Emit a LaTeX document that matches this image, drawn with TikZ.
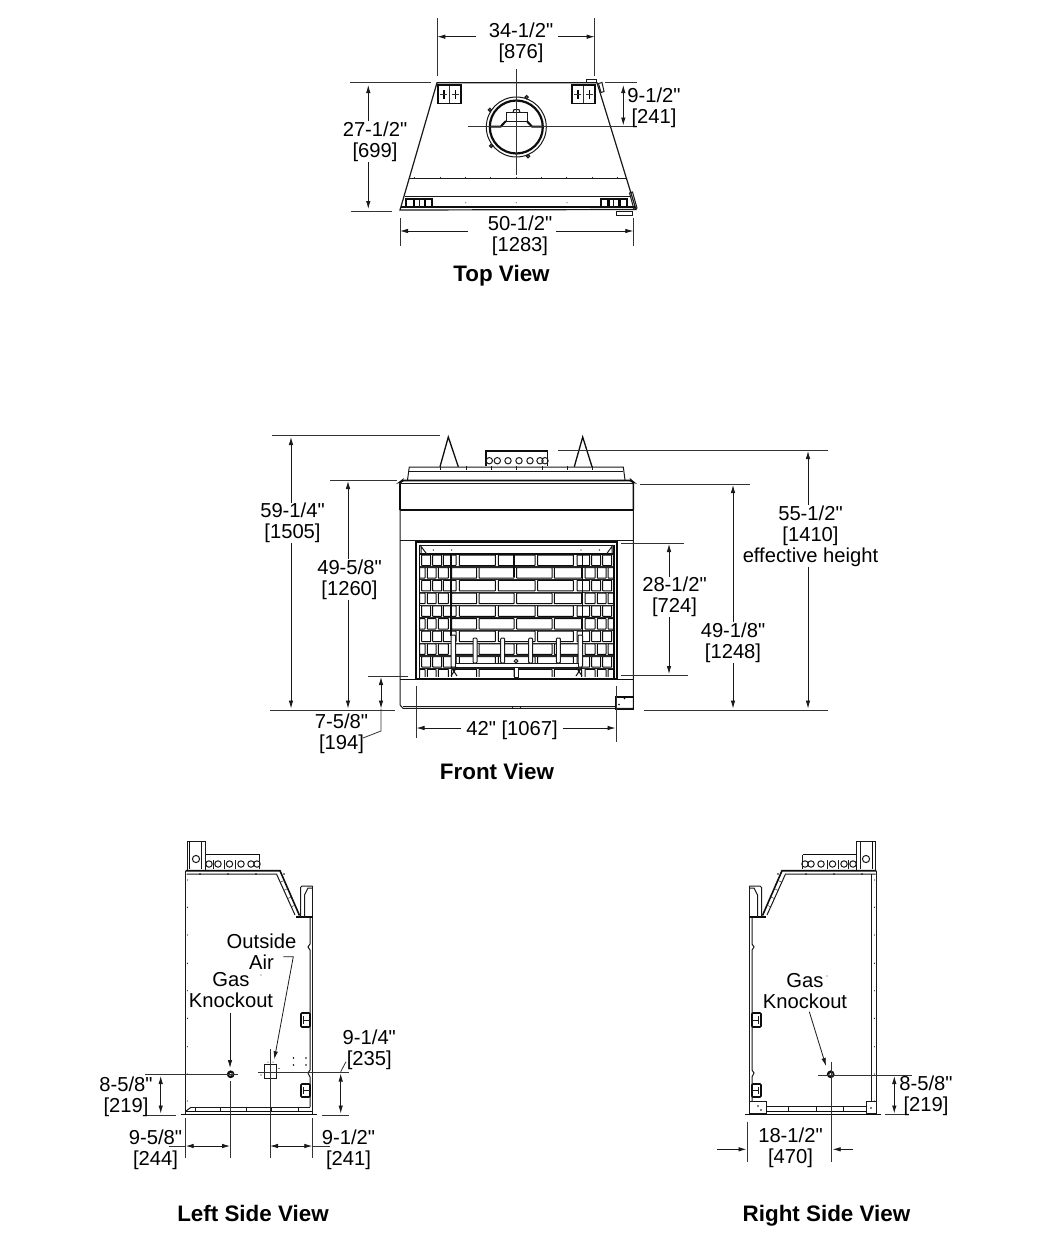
\documentclass[tikz,border=0pt]{standalone}
\usepackage{fontspec}
\newfontfamily\dimfont{Liberation Sans}
\usetikzlibrary{positioning,arrows.meta}

% one side elevation, written for the left view; the right view mirrors it
\newcommand{\sidebody}{
  \draw[heavy] (185.7,870.7) -- (280,870.7) -- (299.5,915.5);
  \draw[part] (186.5,874) -- (276.5,874) -- (295,915);
  \foreach \sf in {0.2,0.4,0.6,0.8}
    \draw[thin] (276.5,874) ++(\sf*18.5,\sf*41) -- ++(3.5,-1.6);
  \draw[part] (185.7,870.7) -- (185.7,1113.5);
  \draw[part] (312.7,886) -- (312.7,1113.5);
  \draw[heavy] (296,916.7) -- (312.7,916.7);
  \draw[part, rounded corners=1.5pt] (300.5,917) -- (300.5,886) -- (312.7,886);
  \draw[part] (304.5,917) -- (304.5,895) -- (308,888) -- (312,888);
  \draw[part] (310,918) -- (310,944) -- (308,947) -- (310,950) -- (310,1070) -- (308,1073) -- (310,1077) -- (310,1107);
  \draw[heavy, rounded corners=1pt] (310,1013) rectangle (301,1027);
  \draw[part] (303.5,1016) -- (303.5,1024) (303.5,1020) -- (310,1020);
  \draw[heavy, rounded corners=1pt] (310,1084) rectangle (301,1097);
  \draw[part] (303.5,1087) -- (303.5,1094) (303.5,1090.5) -- (310,1090.5);
  \draw[heavy] (180.7,1114.3) -- (316.7,1114.3);
  \foreach \ty in {880,907.3,935,963.3,990.7,1018.3,1046.7,1074,1101}
    \fill[black!80] (187.5,\ty) circle (0.7);
  \foreach \tx in {200,228,256,284}
    \fill (\tx,874) circle (0.9);
  \draw[part] (187,870) -- (187,841) -- (205.7,841) -- (205.7,870);
  \draw[heavy] (189.5,841) -- (189.5,869);
  \draw[part] (201.7,841) -- (201.7,869);
  \draw[part] (196,859) circle (3.6);
  \draw[heavy] (205.7,854.5) -- (259.5,854.5);
  \draw[part] (259.5,854.5) -- (259.5,869);
  \foreach \cx in {209,218,229.5,241,251,257}
    \draw[part] (\cx,864) circle (3.2);
  \draw[part] (213.5,860) -- (213.5,869) (224,860) -- (224,869) (235,860) -- (235,869);
}

\begin{document}
\begin{tikzpicture}[x=1pt,y=-1pt]
  \tikzstyle{part}=[line width=1pt, black!90]
  \tikzstyle{heavy}=[line width=1.6pt, black!95]
  \tikzstyle{thin}=[line width=0.5pt, black!80]
  \tikzstyle{extline}=[line width=0.8pt, black!80]
  \tikzstyle{dim}=[line width=0.8pt, black!90, -{Latex[length=8pt,width=4.5pt]}]
  \tikzstyle{dimboth}=[line width=0.8pt, black!90, {Latex[length=8pt,width=4.5pt]}-{Latex[length=8pt,width=4.5pt]}]
  \tikzstyle{lbl}=[inner sep=0pt, align=center, yshift=-2pt, font=\dimfont\fontsize{20.2}{21}\selectfont]
  \tikzstyle{viewname}=[inner sep=0pt, anchor=base, font=\dimfont\fontsize{22.4}{24}\selectfont\bfseries]
  \tikzstyle{brick}=[line width=1pt, black!95, fill=white, rounded corners=0.5pt]

  \useasboundingbox (0,0) rectangle (1048,1234);
  \fill[white] (0,0) rectangle (1048,1234);

  % ---- top view
  \coordinate (tTL) at (437,82.7);
  \coordinate (tTR) at (597,82.7);
  \coordinate (tBR) at (636,209.5);
  \coordinate (tBL) at (400,210);
  \draw[part, line width=1.2pt] (tTL) -- (tTR) -- (tBR) -- (tBL) -- cycle;
  \draw[part] (408.5,178.3) -- (625.5,178.3);
  \draw[part] (404.5,196.7) -- (630,196.7);
  \draw[heavy] (401,207) -- (635,207);
  \foreach \tx in {414.7,440,465.3,490.7,516,541.3,566.7,592,617.3}
    \draw[thin] (\tx,176.5) -- (\tx,178.3);
  \foreach \tx in {465.7,516.3,567}
    \fill[black!60] (\tx,202.7) circle (0.6);
  \foreach \bx in {438,572}{
    \draw[heavy] (\bx,85) rectangle (\bx+23,103.3);
    \fill (\bx+5,89.5) rectangle (\bx+6.5,98.5);
    \fill (\bx+16.5,89.5) rectangle (\bx+18,98.5);
    \draw[thin] (\bx+2,94) -- (\bx+9,94) (\bx+14,94) -- (\bx+21,94);
    \draw[thin] (\bx+11.5,86) -- (\bx+11.5,102.5);
  }
  \foreach \bx in {406,600.7}{
    \draw[heavy] (\bx,199) rectangle (\bx+26,206.7);
    \fill (\bx+6.5,200) rectangle (\bx+9,206);
    \fill (\bx+17.5,200) rectangle (\bx+20,206);
    \draw[part] (\bx+13,199) -- (\bx+13,206.7);
  }
  \draw[part] (586,79.5) rectangle (596.5,82.7);
  \draw[part] (598.5,83.5) -- (602,82.5) -- (604,91.5) -- (601,92.5) -- cycle;
  \draw[part] (629.5,193) -- (632.5,192) -- (637,208) -- (634,209.5) -- cycle;
  \draw[part] (616,211) rectangle (632.7,215.3);
  \draw[part] (516.3,127) circle (30);
  \draw[heavy, line width=2.2pt] (516.3,127) circle (26.5);
  \foreach \ta in {143,68,213,289}
    \draw[part, fill=black!60] (516.3,127) ++(\ta:31.5) circle (1.7);
  \draw[heavy, line width=2pt] (490,126.5) -- (500.7,126.5) -- (506,121);
  \draw[heavy, line width=2pt] (526.7,121) -- (532,126.5) -- (543,126.5);
  \draw[part] (506,121) -- (506,112.5) -- (527,112.5) -- (527,121) -- cycle;
  \draw[part] (513,112.5) -- (514,109.5) -- (519,109.5) -- (520,112.5);
  \draw[heavy] (516.5,132) -- (516.5,150);
  \draw[extline] (516.7,69) -- (516.7,175);
  \draw[extline] (468,126.7) -- (636.7,126.7);
  % top view dimensions
  \coordinate (t34a) at (437.3,36.7);
  \coordinate (t34b) at (594.7,36.7);
  \coordinate (t27a) at (368.3,85);
  \coordinate (t27b) at (368.3,209);
  \coordinate (t50a) at (400,231);
  \coordinate (t50b) at (633.3,231);
  \coordinate (t9a) at (623.3,85);
  \coordinate (t9b) at (623.3,125.5);
  \draw[extline] (437.3,18) -- (437.3,76);
  \draw[extline] (594.7,18) -- (594.7,76);
  \draw[extline] (350,82.7) -- (430.7,82.7);
  \draw[extline] (350.7,211) -- (391.7,211);
  \draw[extline] (400,218) -- (400,246);
  \draw[extline] (633.3,218) -- (633.3,246);
  \draw[extline] (605,82.7) -- (636.7,82.7);
  \node[lbl] (top34) at (521,41) {34-1/2"\\{[876]}};
  \node[lbl] (top27) at (375,139.5) {27-1/2"\\{[699]}};
  \node[lbl] (top50) at (520,233.5) {50-1/2"\\{[1283]}};
  \node[lbl] (top9) at (654,105.5) {9-1/2"\\{[241]}};
  \node[viewname] (topview) at (501.5,281) {Top View};
  \draw[dim] (top34.west |- t34a) ++(-13,0) -- (t34a);
  \draw[dim] (top34.east |- t34b) ++(4.5,0) -- (t34b);
  \draw[dim] (top27.north -| t27a) -- (t27a);
  \draw[dim] (top27.south -| t27b) -- (t27b);
  \draw[dim] (top50.west |- t50a) ++(-20,0) -- (t50a);
  \draw[dim] (top50.east |- t50b) ++(4,0) -- (t50b);
  \draw[dimboth] (t9a) -- (t9b);

  % ---- front view
  \begin{scope}
    \clip (419.5,554) rectangle (614,676.5);
    \foreach \ry in {555,580.4,605.8,631.2,656.6}
      \foreach \xa/\xb in {421.7/430.7,432.7/441.7,443.3/456,459.3/495.3,498.3/535,537.7/573.3,577/589.7,591.7/600.7,602.7/611.7}
        \draw[brick] (\xa,\ry) rectangle (\xb,\ry+10.5);
    \foreach \ry in {567.7,593.1,618.5,643.9,669.3}
      \foreach \xa/\xb in {419.5/425,427.3/436,438.3/448.3,451.7/476.7,479/514,516.7/552,554.3/581.7,585/595,597.3/606,608/614}
        \draw[brick] (\xa,\ry) rectangle (\xb,\ry+10.5);
  \end{scope}
  \foreach \ry in {554.5,567,579.7,592.4,605.1,617.8,630.5,643.2,655.9,668.6}
    \draw[line width=1.2pt, black!85] (419.5,\ry) -- (614,\ry);
  \draw[heavy] (451,555) -- (451,636);
  \draw[heavy] (582.3,555) -- (582.3,636);
  \draw[heavy] (514,555) -- (514,577);
  \foreach \px in {475,502.7,530.7,558.3}
    \draw[part, fill=white, rounded corners=1pt] (\px-2,638) rectangle (\px+2,663);
  \draw[part, fill=white, rounded corners=1pt] (451,635) rectangle (455.7,667);
  \draw[part, fill=white, rounded corners=1pt] (578,635) rectangle (582.5,667);
  \draw[part, fill=white] (455.7,663.3) rectangle (578,667.3);
  \draw[part] (451,667) -- (457,676) (457,667) -- (451,676);
  \draw[part] (576,667) -- (582,676) (582,667) -- (576,676);
  \draw[part, fill=white] (514,667.3) rectangle (518,677);
  \draw[part] (516,661) circle (1.8);
  \draw[heavy] (416,542) rectangle (616.7,678.3);
  \draw[heavy] (419.3,545) -- (419.3,678);
  \draw[heavy] (614,545) -- (614,678);
  \draw[part] (419.3,545) -- (614,545);
  \draw[heavy] (419.3,554) -- (614,554);
  \draw[part] (420,545) -- (426.7,554) (421,546) -- (421,554);
  \draw[part] (613,545) -- (606.5,554) (612,546) -- (612,554);
  \foreach \dx in {433.3,451.7,581,599.3}
    \fill (\dx,550) circle (0.7);
  \draw[part] (407.5,480) -- (409.3,467) -- (623.3,467) -- (625,480);
  \draw[part] (409.3,471) -- (623.3,471);
  \draw[heavy, rounded corners=2pt] (400,510) -- (400,482) -- (402,480.5) -- (631.5,480.5) -- (633.3,482) -- (633.3,510);
  \draw[heavy] (400,510) -- (633.3,510);
  \draw[part] (400,483) -- (633.3,483);
  \draw[part] (400,510) -- (400,705) -- (403,708.3) -- (633.3,708.3) -- (633.3,510);
  \draw[part] (400,540) -- (633.3,540);
  \draw[part] (403,706) -- (616,706);
  \draw[heavy] (400,679.5) -- (633.3,679.5);
  \draw[part] (512.7,706) -- (512.7,709) (520,706) -- (520,709);
  \draw[heavy] (616,696.7) rectangle (633.3,709.3);
  \fill (624.5,698.5) circle (0.8) (619,704.5) circle (0.8);
  \draw[heavy, line width=1.3pt] (440,466.7) -- (448.3,437) -- (458.3,466.7);
  \draw[heavy, line width=1.3pt] (574.3,466.7) -- (582.7,437) -- (592,466.7);
  \foreach \tx in {440,466,491.7,516.7,542.3,567.7,592}
    \draw[part] (\tx,466) -- (\tx,470);
  \draw[heavy] (486,465.5) -- (486,450.7) -- (547.3,450.7) -- (547.3,465.5);
  \foreach \cx in {489.3,497.3,508,519,530,540,545}
    \draw[part] (\cx,460.7) circle (3.2);

  % front view dimensions
  \coordinate (f59a) at (291,437);
  \coordinate (f59b) at (291,708.5);
  \coordinate (f49a) at (348,481);
  \coordinate (f49b) at (348,708.5);
  \coordinate (f7a) at (381,677);
  \coordinate (f7b) at (381,708.5);
  \coordinate (f42a) at (416.5,728);
  \coordinate (f42b) at (615.5,728);
  \coordinate (f28a) at (669,544);
  \coordinate (f28b) at (669,674);
  \coordinate (f491a) at (733,485);
  \coordinate (f491b) at (733,708.5);
  \coordinate (f55a) at (808,451);
  \coordinate (f55b) at (808,708.5);
  \draw[extline] (272,435.3) -- (440,435.3);
  \draw[extline] (270,710) -- (395,710);
  \draw[extline] (330,480) -- (397,480);
  \draw[extline] (368,676) -- (408,676);
  \draw[extline] (416,686) -- (416,738);
  \draw[extline] (616.7,686) -- (616.7,742);
  \draw[extline] (621,543) -- (684,543);
  \draw[extline] (621,675) -- (688,675);
  \draw[extline] (640,484) -- (750,484);
  \draw[extline] (644,710) -- (828,710);
  \draw[extline] (558,450) -- (828,450);
  \node[lbl] (fr59) at (292.5,521) {59-1/4"\\{[1505]}};
  \node[lbl] (fr49) at (349.5,577.5) {49-5/8"\\{[1260]}};
  \node[lbl] (fr7) at (341.5,732) {7-5/8"\\{[194]}};
  \node[lbl] (fr42) at (512,728) {42" [1067]};
  \node[lbl] (fr28) at (674.5,595) {28-1/2"\\{[724]}};
  \node[lbl] (fr491) at (733,640.5) {49-1/8"\\{[1248]}};
  \node[lbl] (fr55) at (810.5,534.5) {55-1/2"\\{[1410]}\\effective height};
  \node[viewname] (frontview) at (497,779) {Front View};
  \draw[dim] (fr59.north -| f59a) -- (f59a);
  \draw[dim] (fr59.south -| f59b) -- (f59b);
  \draw[dim] (fr49.north -| f49a) -- (f49a);
  \draw[dim] (fr49.south -| f49b) -- (f49b);
  \draw[dimboth] (f7a) -- (f7b);
  \draw[extline] (363,738) -- (381,731) -- (f7b);
  \draw[dim] (fr42.west |- f42a) ++(-5,0) -- (f42a);
  \draw[dim] (fr42.east |- f42b) ++(5,0) -- (f42b);
  \draw[dim] (fr28.north -| f28a) -- (f28a);
  \draw[dim] (fr28.south -| f28b) -- (f28b);
  \draw[dim] (fr491.north -| f491a) -- (f491a);
  \draw[dim] (fr491.south -| f491b) -- (f491b);
  \draw[dim] (fr55.north -| f55a) ++(0,-1) -- (f55a);
  \draw[dim] (fr55.south -| f55b) -- (f55b);

  % ---- left side view
  \sidebody
  \draw[part] (191,1107.3) -- (310,1107.3);
  \draw[heavy] (186,1111.5) -- (312,1111.5);
  \draw[part] (186,1111) -- (191,1107.3);
  \foreach \tx in {195,220,246.7,271.7,298.3}
    \draw[part] (\tx,1107.3) -- (\tx,1111);
  \draw[heavy] (230.7,1074.3) circle (3);
  \fill (230.7,1070.5) -- (232.5,1074) -- (230.7,1078) -- (228.9,1074) -- cycle;
  \fill[white] (230.7,1074.3) circle (1.4);
  \draw[part] (264,1064) rectangle (276.7,1078.3);
  \fill (261,1075) circle (0.7) (279,1068.5) circle (0.7) (268,1062) circle (0.5) (273,1062) circle (0.5);
  \fill (293.5,1058) circle (0.8) (306,1058) circle (0.8) (293.5,1065) circle (0.8) (306,1065) circle (0.8);
  \fill[black!70] (261,975) circle (0.6);
  \coordinate (lkA) at (230,1068);
  \coordinate (lairA) at (274.3,1059.3);
  \coordinate (l8a) at (160.7,1076);
  \coordinate (l8b) at (160.7,1113.5);
  \coordinate (l9a) at (340.7,1073.5);
  \coordinate (l9b) at (340.7,1113.5);
  \coordinate (l95a) at (185.7,1146);
  \coordinate (l95b) at (230,1146);
  \coordinate (l91a) at (270,1146);
  \coordinate (l91b) at (312.3,1146);
  \draw[extline] (145,1074.2) -- (238.3,1074.2);
  \draw[extline] (230,1081) -- (230,1158);
  \draw[extline] (270,1049) -- (270,1158);
  \draw[extline] (258.3,1072.3) -- (349.3,1072.3);
  \draw[extline] (145,1115) -- (176,1115);
  \draw[extline] (321.7,1115) -- (349.3,1115);
  \draw[extline] (185.7,1118) -- (185.7,1158);
  \draw[extline] (312.3,1118) -- (312.3,1158);
  \draw[extline] (340.7,1071.7) -- (346,1061.7);
  \node[lbl] (lairlbl) at (261.5,949.5) {Outside\\Air};
  \node[lbl] (lgas) at (231,988.5) {Gas\\Knockout};
  \node[lbl] (l8) at (126,1094.5) {8-5/8"\\{[219]}};
  \node[lbl] (l9) at (369.3,1047.5) {9-1/4"\\{[235]}};
  \node[lbl] (l95) at (155.5,1147.5) {9-5/8"\\{[244]}};
  \node[lbl] (l91) at (348.5,1147.5) {9-1/2"\\{[241]}};
  \node[viewname] (leftview) at (253,1221) {Left Side View};
  \draw[dim] (lgas.south -| lkA) ++(0,4.5) -- (lkA);
  \draw[dim] (283.3,956.7) -- (293.3,956.7) -- (lairA);
  \draw[dimboth] (l8a) -- (l8b);
  \draw[dimboth] (l9a) -- (l9b);
  \draw[extline] (169.3,1146) -- (l95a);
  \draw[dimboth] (l95a) -- (l95b);
  \draw[dimboth] (l91a) -- (l91b);
  \draw[extline] (l91b) -- (330,1146);

  % ---- right side view
  \begin{scope}[xshift=1062pt,xscale=-1]
    \sidebody
  \end{scope}
  \draw[part] (871.7,874) -- (871.7,1102);
  \draw[part, fill=white] (749.3,1101.7) rectangle (766,1113.3);
  \draw[part, fill=white] (866,1101.7) rectangle (876,1113.3);
  \fill (758,1106) circle (0.8) (761,1110) circle (0.8) (871,1108) circle (0.8);
  \draw[part] (766,1106) -- (866,1106);
  \draw[heavy] (766,1111.5) -- (866,1111.5);
  \foreach \tx in {788,816,843}
    \draw[part] (\tx,1106) -- (\tx,1111);
  \draw[heavy] (830.7,1074.3) circle (3);
  \fill (830.7,1070.5) -- (832.5,1074) -- (830.7,1078) -- (828.9,1074) -- cycle;
  \fill[white] (830.7,1074.3) circle (1.4);
  \fill[black!70] (827,976) circle (0.6);
  \coordinate (rkA) at (826,1066);
  \coordinate (r8a) at (894.3,1076);
  \coordinate (r8b) at (894.3,1113.5);
  \coordinate (r18a) at (746.5,1149.3);
  \coordinate (r18b) at (832.7,1149.3);
  \draw[extline] (831.3,1061.7) -- (831.3,1161.7);
  \draw[extline] (818.3,1075) -- (911.7,1075);
  \draw[extline] (885,1114.5) -- (905,1114.5);
  \draw[extline] (747.3,1121.7) -- (747.3,1161.7);
  \node[lbl] (rgas) at (805,989.5) {Gas\\Knockout};
  \node[lbl] (r8) at (926,1094) {8-5/8"\\{[219]}};
  \node[lbl] (r18) at (790.5,1146) {18-1/2"\\{[470]}};
  \node[viewname] (rightview) at (826.5,1221) {Right Side View};
  \draw[dim] (809.3,1011.7) -- (rkA);
  \draw[dimboth] (r8a) -- (r8b);
  \draw[dim] (717.3,1149.3) -- (r18a);
  \draw[dim] (853.3,1149.3) -- (r18b);
\end{tikzpicture}
\end{document}
